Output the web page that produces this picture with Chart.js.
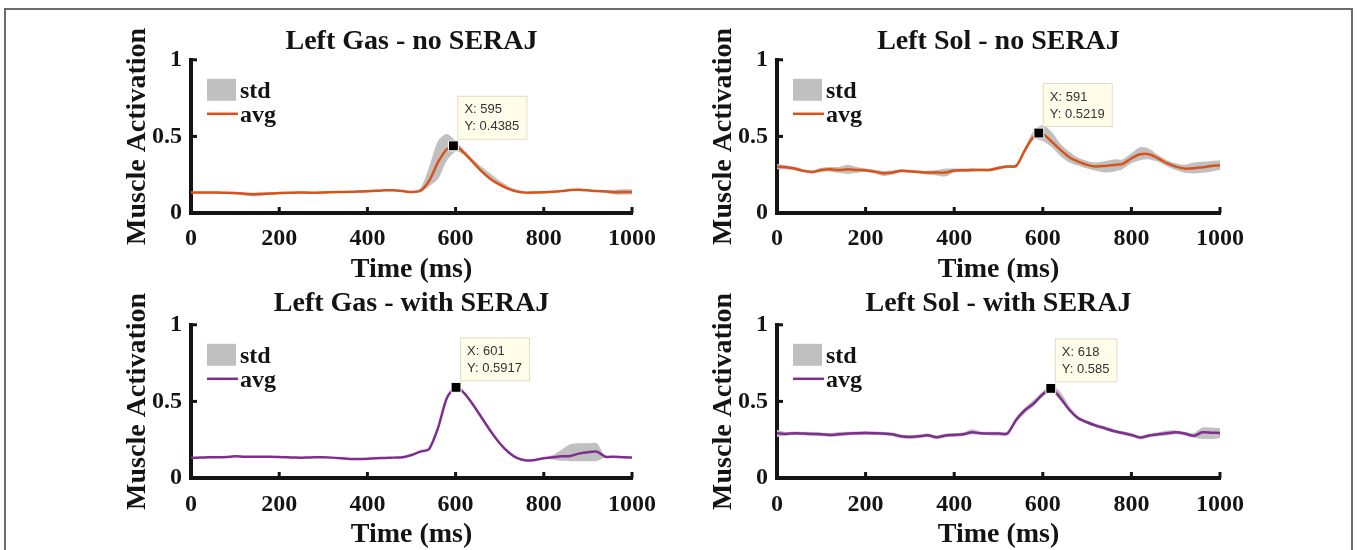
<!DOCTYPE html>
<html>
<head>
<meta charset="utf-8">
<script src="https://cdn.jsdelivr.net/npm/chart.js@4.4.0/dist/chart.umd.min.js"></script>
<style>
  body { margin: 0; background: #fff; width: 1357px; height: 550px; overflow: hidden; position: relative; }
  .frame { position: absolute; left: 4px; top: 8px; width: 1345px; height: 600px; border: 2px solid #6b6b6b; }
  canvas { position: absolute; }
</style>
</head>
<body>
<div class="frame"></div>
<canvas id="p0"></canvas>
<canvas id="p1"></canvas>
<canvas id="p2"></canvas>
<canvas id="p3"></canvas>
<script>
// time grid (ms)
const times = [0,20,40,60,80,100,120,140,160,180,200,220,240,260,280,300,320,340,360,380,400,
  420,440,460,480,500,520,540,560,580,600,620,640,660,680,700,720,740,760,780,800,
  820,840,860,880,900,920,940,960,980,1000];

const xTicks = [0, 200, 400, 600, 800, 1000];
const yTicks = [0, 0.5, 1];

const titles = ['Left Gas - no SERAJ', 'Left Sol - no SERAJ', 'Left Gas - with SERAJ', 'Left Sol - with SERAJ'];
const seriesNames = ['std', 'avg'];

// Left Gas - no SERAJ
const gasNoAvg = [.133,.133,.133,.133,.132,.130,.126,.122,.124,.128,.130,.132,.133,.133,.132,.134,.136,.137,.138,.140,.142,
  .145,.148,.148,.143,.137,.145,.21,.33,.415,.437,.39,.33,.27,.22,.185,.158,.14,.133,.134,.135,
  .138,.143,.150,.152,.148,.143,.140,.136,.137,.137];
const gasNoHi = [.139,.139,.139,.139,.138,.137,.136,.134,.135,.136,.137,.138,.139,.139,.138,.140,.142,.143,.144,.146,.148,
  .151,.154,.154,.149,.143,.16,.30,.47,.515,.47,.41,.35,.30,.255,.21,.175,.148,.139,.14,.141,
  .144,.149,.156,.158,.154,.149,.148,.152,.155,.154];
const gasNoLo = [.127,.127,.127,.127,.126,.123,.116,.110,.113,.120,.123,.126,.127,.127,.126,.128,.130,.131,.132,.134,.136,
  .139,.142,.142,.137,.131,.135,.175,.22,.34,.40,.38,.32,.26,.21,.175,.15,.133,.127,.128,.129,
  .132,.137,.144,.146,.142,.137,.132,.120,.119,.12];

// Left Sol - no SERAJ
const solNoAvg = [.303,.298,.29,.275,.268,.281,.285,.281,.285,.281,.279,.27,.259,.264,.275,.272,.268,.264,.264,.264,.277,
  .279,.281,.281,.281,.294,.303,.307,.412,.50,.515,.466,.412,.364,.335,.314,.303,.307,.314,.32,.357,
  .383,.383,.357,.325,.303,.29,.292,.298,.307,.312];
const solNoHi = [.32,.312,.302,.285,.278,.295,.30,.30,.315,.30,.29,.282,.275,.278,.285,.282,.278,.276,.28,.29,.29,
  .29,.292,.29,.29,.305,.312,.316,.43,.54,.575,.53,.45,.40,.36,.34,.33,.34,.35,.35,.39,
  .43,.42,.38,.345,.325,.315,.33,.335,.34,.345];
const solNoLo = [.285,.285,.278,.265,.258,.268,.27,.262,.255,.262,.268,.258,.242,.25,.265,.262,.258,.25,.245,.238,.265,
  .268,.27,.272,.272,.283,.294,.298,.395,.48,.47,.43,.37,.33,.31,.29,.275,.265,.27,.285,.325,
  .345,.35,.335,.305,.28,.262,.258,.262,.27,.28];

// Left Gas - with SERAJ
const gasWithAvg = [.133,.133,.135,.135,.137,.142,.139,.139,.139,.139,.137,.135,.133,.133,.135,.135,.133,.129,.124,.124,.126,
  .129,.131,.133,.135,.15,.172,.19,.325,.521,.593,.553,.477,.39,.303,.227,.168,.129,.115,.118,.129,
  .135,.142,.144,.159,.168,.172,.139,.139,.135,.133];
const gasWithHi = [.137,.137,.139,.139,.141,.146,.143,.143,.143,.143,.141,.139,.137,.137,.139,.139,.137,.133,.128,.128,.130,
  .133,.135,.137,.139,.155,.177,.196,.33,.527,.60,.56,.483,.396,.309,.233,.173,.133,.119,.122,.133,
  .15,.185,.22,.227,.227,.227,.143,.143,.139,.137];
const gasWithLo = [.129,.129,.131,.131,.133,.138,.135,.135,.135,.135,.133,.131,.129,.129,.131,.131,.129,.125,.120,.120,.122,
  .125,.127,.129,.131,.145,.167,.184,.32,.515,.586,.546,.471,.384,.297,.221,.163,.125,.111,.114,.125,
  .12,.112,.11,.11,.11,.11,.135,.135,.131,.129];

// Left Sol - with SERAJ
const solWithAvg = [.292,.288,.292,.29,.288,.285,.281,.285,.29,.292,.294,.292,.29,.285,.272,.268,.272,.279,.266,.277,.281,
  .285,.298,.292,.29,.29,.29,.38,.444,.488,.547,.582,.521,.444,.39,.364,.342,.325,.307,.294,.281,
  .264,.277,.285,.292,.298,.29,.275,.298,.296,.294];
const solWithHi = [.315,.30,.304,.302,.30,.297,.293,.30,.302,.304,.306,.304,.302,.297,.284,.28,.284,.291,.278,.289,.293,
  .297,.318,.304,.302,.302,.302,.395,.46,.51,.565,.61,.56,.47,.405,.376,.354,.337,.319,.306,.293,
  .276,.289,.297,.31,.31,.302,.293,.33,.33,.325];
const solWithLo = [.268,.276,.28,.278,.276,.273,.269,.273,.278,.28,.282,.28,.278,.273,.26,.256,.26,.267,.254,.265,.269,
  .273,.285,.28,.278,.278,.278,.365,.425,.47,.53,.565,.505,.435,.378,.352,.33,.313,.295,.282,.269,
  .252,.265,.273,.278,.286,.278,.265,.255,.255,.26];

// data tips
const peakX = [595, 591, 601, 618];
const peakY = [0.4385, 0.5219, 0.5917, 0.585];

const avgs = [gasNoAvg, solNoAvg, gasWithAvg, solWithAvg];
const his = [gasNoHi, solNoHi, gasWithHi, solWithHi];
const los = [gasNoLo, solNoLo, gasWithLo, solWithLo];
const lineColors = ['#D95319', '#D95319', '#7E2F8E', '#7E2F8E'];
const bandColor = '#c0c0c0';

// canvas placement per panel
const boxes = [
  { left: 95,  top: 0,   width: 577, height: 288, tTop: 25, tBot: 1.2, tickPad: 11 },
  { left: 681, top: 0,   width: 579, height: 288, tTop: 25, tBot: 1.2, tickPad: 11 },
  { left: 95,  top: 260, width: 577, height: 293, tTop: 26.5, tBot: 4.7, tickPad: 12 },
  { left: 681, top: 260, width: 579, height: 293, tTop: 26.5, tBot: 4.7, tickPad: 12 }
];

const serif = '"Liberation Serif", "Times New Roman", serif';
const ink = '#141414';

const decor = {
  id: 'decor',
  afterDraw(chart, args, opts) {
    const { ctx, chartArea: a, scales: { x, y } } = chart;
    ctx.save();
    // inward tick marks
    ctx.strokeStyle = ink;
    ctx.lineWidth = 3;
    xTicks.slice(1).forEach(v => {
      const px = x.getPixelForValue(v);
      ctx.beginPath(); ctx.moveTo(px, a.bottom); ctx.lineTo(px, a.bottom - 6); ctx.stroke();
    });
    yTicks.slice(1).forEach(v => {
      const py = y.getPixelForValue(v);
      ctx.beginPath(); ctx.moveTo(a.left, py); ctx.lineTo(a.left + 6, py); ctx.stroke();
    });

    // legend inside plot
    ctx.fillStyle = bandColor;
    ctx.fillRect(a.left + 16, a.top + 19, 29, 22);
    ctx.strokeStyle = opts.color;
    ctx.lineWidth = 2.5;
    ctx.beginPath(); ctx.moveTo(a.left + 16, a.top + 54); ctx.lineTo(a.left + 47, a.top + 54); ctx.stroke();
    ctx.fillStyle = ink;
    ctx.font = 'bold 24px ' + serif;
    ctx.textBaseline = 'middle';
    ctx.textAlign = 'left';
    ctx.fillText(seriesNames[0], a.left + 49, a.top + 32);
    ctx.fillText(seriesNames[1], a.left + 49, a.top + 56);

    // data tip box
    const px = x.getPixelForValue(opts.px);
    const py = y.getPixelForValue(opts.py);
    const l1 = 'X: ' + opts.px, l2 = 'Y: ' + opts.py;
    ctx.font = '13px "Liberation Sans", Arial, sans-serif';
    const w = Math.max(ctx.measureText(l1).width, ctx.measureText(l2).width) + 14;
    const bx = px + 4, by = py - 50;
    ctx.fillStyle = '#fffdea';
    ctx.fillRect(bx, by, w, 43);
    ctx.strokeStyle = '#e2ddc4';
    ctx.lineWidth = 1;
    ctx.strokeRect(bx + 0.5, by + 0.5, w, 43);
    ctx.fillStyle = '#333';
    ctx.fillText(l1, bx + 7, by + 14);
    ctx.fillText(l2, bx + 7, by + 31);
    ctx.restore();
  }
};

const pts = arr => arr.map((v, i) => ({ x: times[i], y: v }));

for (let i = 0; i < 4; i++) {
  const b = boxes[i];
  const cv = document.getElementById('p' + i);
  cv.width = b.width; cv.height = b.height;
  cv.style.left = b.left + 'px'; cv.style.top = b.top + 'px';

  new Chart(cv, {
    type: 'line',
    data: {
      datasets: [
        { data: pts(los[i]), borderWidth: 0, pointRadius: 0, fill: false, order: 3 },
        { data: pts(his[i]), borderWidth: 0, pointRadius: 0, fill: '-1', backgroundColor: bandColor, order: 2 },
        { data: pts(avgs[i]), borderColor: lineColors[i], borderWidth: 2.5, pointRadius: 0, fill: false, order: 1 },
        { data: [{ x: peakX[i], y: peakY[i] }], showLine: false, pointStyle: 'rect', pointRadius: 7,
          backgroundColor: '#000', borderColor: '#fff', borderWidth: 1, order: 0 }
      ]
    },
    options: {
      responsive: false,
      animation: false,
      events: [],
      layout: { padding: { left: 0, right: 40, top: 0, bottom: 0 } },
      elements: { line: { tension: 0.25 } },
      plugins: {
        legend: { display: false },
        tooltip: { enabled: false },
        title: {
          display: true, fullSize: false, text: titles[i], color: ink,
          font: { family: serif, size: 28, weight: 'bold' },
          padding: { top: b.tTop, bottom: b.tBot }
        },
        decor: { color: lineColors[i], px: peakX[i], py: peakY[i] }
      },
      scales: {
        x: {
          type: 'linear', min: 0, max: 1000,
          afterBuildTicks: s => { s.ticks = xTicks.map(v => ({ value: v })); },
          afterFit: s => { s.height = 75; },
          grid: { display: false, drawTicks: false },
          border: { display: true, width: 4, color: ink },
          ticks: { padding: b.tickPad, color: ink, maxRotation: 0, autoSkip: false,
                   font: { family: serif, size: 24, weight: 'bold' }, callback: v => String(v) },
          title: { display: true, text: 'Time (ms)', color: ink,
                   font: { family: serif, size: 28, weight: 'bold' }, padding: { top: 0, bottom: 1 } }
        },
        y: {
          type: 'linear', min: 0, max: 1,
          afterBuildTicks: s => { s.ticks = yTicks.map(v => ({ value: v })); },
          afterFit: s => { s.width = 96; },
          grid: { display: false, drawTicks: false },
          border: { display: true, width: 4, color: ink },
          ticks: { padding: 9, color: ink, font: { family: serif, size: 24, weight: 'bold' },
                   callback: v => String(v) },
          title: { display: true, text: 'Muscle Activation', color: ink,
                   font: { family: serif, size: 28, weight: 'bold' }, padding: { top: 26, bottom: 0 } }
        }
      }
    },
    plugins: [decor]
  });
}
</script>
</body>
</html>
